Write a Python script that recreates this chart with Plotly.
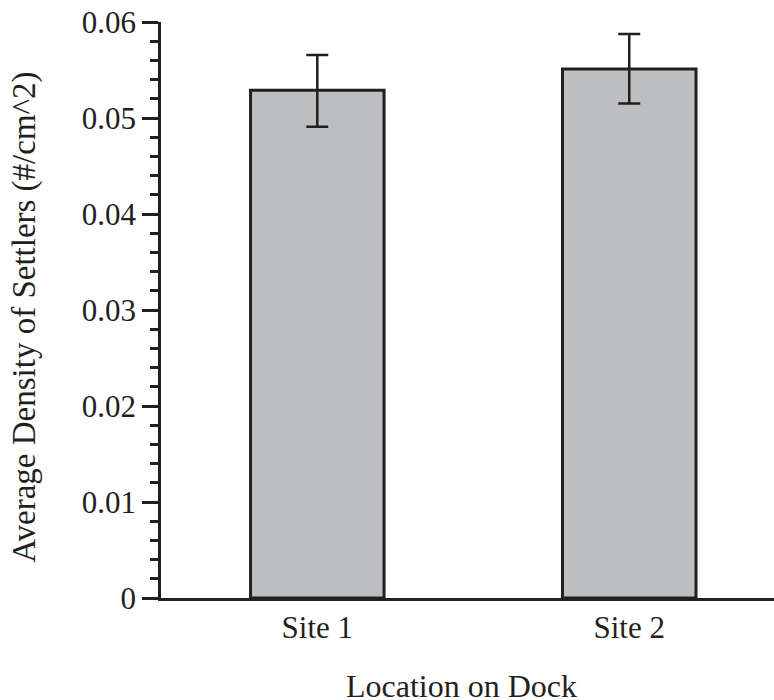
import plotly.graph_objects as go

categories = ["Site 1", "Site 2"]
values = [0.0529, 0.0551]
err_plus = [0.00365, 0.00365]
err_minus = [0.0038, 0.0036]
y_tickvals = [0, 0.01, 0.02, 0.03, 0.04, 0.05, 0.06]
y_ticktext = ["0", "0.01", "0.02", "0.03", "0.04", "0.05", "0.06"]
x_title = "Location on Dock"
y_title = "Average Density of Settlers (#/cm^2)"

DARK = "#231f20"
FONT = "Liberation Serif, Times New Roman, serif"

fig = go.Figure(
    go.Bar(
        x=[0, 1],
        y=values,
        width=0.428,
        marker=dict(color="#bcbec0", line=dict(color=DARK, width=3)),
        error_y=dict(
            type="data", symmetric=False, array=err_plus, arrayminus=err_minus,
            color=DARK, thickness=2.5, width=11,
        ),
    )
)

fig.update_layout(
    width=774, height=700,
    margin=dict(l=161, r=0, t=22, b=102),
    paper_bgcolor="white", plot_bgcolor="white",
    showlegend=False,
    font=dict(family=FONT, size=31, color=DARK),
)

fig.update_xaxes(
    range=[-0.501, 1.464],
    tickvals=[0, 1], ticktext=categories,
    showline=True, linecolor=DARK, linewidth=2.5,
    ticks="", showgrid=False, zeroline=False,
    tickfont=dict(family=FONT, size=31, color=DARK),
)

fig.update_yaxes(
    range=[0, 0.06],
    tickvals=y_tickvals, ticktext=y_ticktext,
    showline=True, linecolor=DARK, linewidth=2.5,
    ticks="outside", ticklen=16, tickwidth=2.5, tickcolor=DARK,
    minor=dict(dtick=0.002, ticks="outside", ticklen=8, tickwidth=2.5, tickcolor=DARK, showgrid=False),
    showgrid=False, zeroline=False,
    tickfont=dict(family=FONT, size=31, color=DARK),
)

fig.add_annotation(
    text=y_title, textangle=-90, showarrow=False,
    xref="paper", yref="paper", x=-0.222, y=0.488,
    xanchor="center", yanchor="middle",
    font=dict(family=FONT, size=33, color=DARK),
)
fig.add_annotation(
    text=x_title, showarrow=False,
    xref="paper", yref="paper", x=0.49, y=-0.118,
    xanchor="center", yanchor="top",
    font=dict(family=FONT, size=32, color=DARK),
)

fig.write_html("out.html")
